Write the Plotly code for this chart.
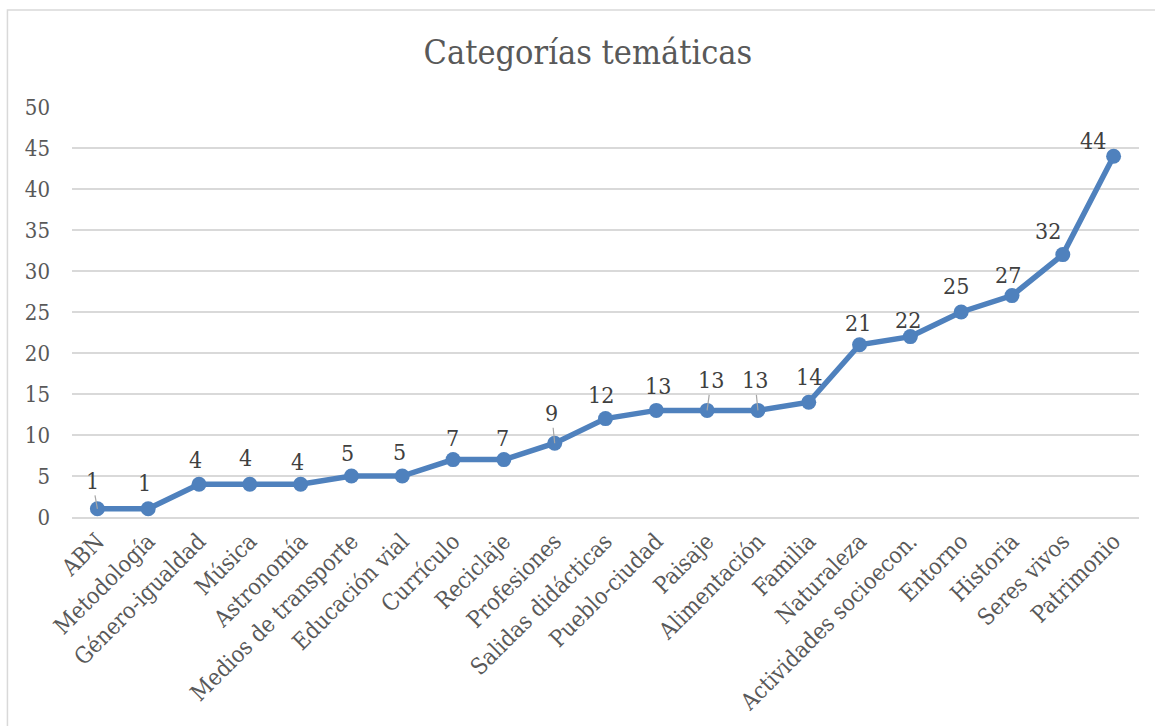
import plotly.graph_objects as go

categories = ["ABN", "Metodología", "Género-igualdad", "Música", "Astronomía",
              "Medios de transporte", "Educación vial", "Currículo", "Reciclaje",
              "Profesiones", "Salidas didácticas", "Pueblo-ciudad", "Paisaje",
              "Alimentación", "Familia", "Naturaleza", "Actividades socioecon.",
              "Entorno", "Historia", "Seres vivos", "Patrimonio"]
values = [1, 1, 4, 4, 4, 5, 5, 7, 7, 9, 12, 13, 13, 13, 14, 21, 22, 25, 27, 32, 44]
y_ticks = list(range(0, 51, 5))

# data-label placement (pixel offsets from each point) and leader-line flags
label_dx = [-5, -4, -4, -4, -3, -4, -3, -1, -1, -3, -5, 2, 4, -3, 0, -2, -2, -5, -4, -15, -21]
label_dy = [-28, -26, -24, -26, -22, -23, -24, -22, -22, -30, -24, -24, -30, -30, -25, -22, -17, -26, -21, -24, -15]
leader = [True, False, False, False, False, False, False, False, False, True,
          False, False, True, True, False, False, False, False, False, False, False]

LINE = "#4f81bd"
SERIF = "DejaVu Serif Condensed, DejaVu Serif, serif"

fig = go.Figure()
fig.add_trace(go.Scatter(
    x=categories, y=values, mode="lines+markers",
    line=dict(color=LINE, width=5.5),
    marker=dict(color=LINE, size=15),
    hoverinfo="x+y", showlegend=False,
))

for c, v, dx, dy, ld in zip(categories, values, label_dx, label_dy, leader):
    fig.add_annotation(
        x=c, y=v, text=str(v), xref="x", yref="y",
        showarrow=ld, ax=dx, ay=dy, axref="pixel", ayref="pixel",
        arrowhead=0, arrowwidth=1.2, arrowcolor="#a6a6a6", standoff=0,
        yshift=0 if ld else -dy, xshift=0 if ld else dx,
        font=dict(family=SERIF, size=23, color="#404040"),
    )

# chart area border (top and left visible)
fig.add_shape(type="rect", xref="paper", yref="paper",
              x0=-0.0605, x1=1.1, y0=-0.6, y1=1.2366,
              line=dict(color="#d9d9d9", width=1.5), layer="below")

fig.update_layout(
    width=1155, height=726,
    margin=dict(l=72, r=16, t=107, b=209),
    paper_bgcolor="white", plot_bgcolor="white",
    title=dict(text="Categorías temáticas", x=0.509, xref="container", xanchor="center",
               y=1 - 52 / 726, yref="container", yanchor="middle",
               font=dict(family=SERIF, size=34, color="#595959")),
    xaxis=dict(type="category", tickangle=-45, showgrid=False, ticks="",
               showline=True, linecolor="#d9d9d9", linewidth=1.5,
               tickfont=dict(family=SERIF, size=23, color="#595959"),
               range=[-0.5, len(categories) - 0.5]),
    yaxis=dict(range=[0, 50], tickvals=y_ticks, showgrid=True, gridcolor="#d9d9d9",
               gridwidth=1.5, zeroline=False, showline=False, ticks="",
               ticklabelstandoff=21,
               tickfont=dict(family=SERIF, size=22, color="#595959")),
)

fig.write_html("out.html")
